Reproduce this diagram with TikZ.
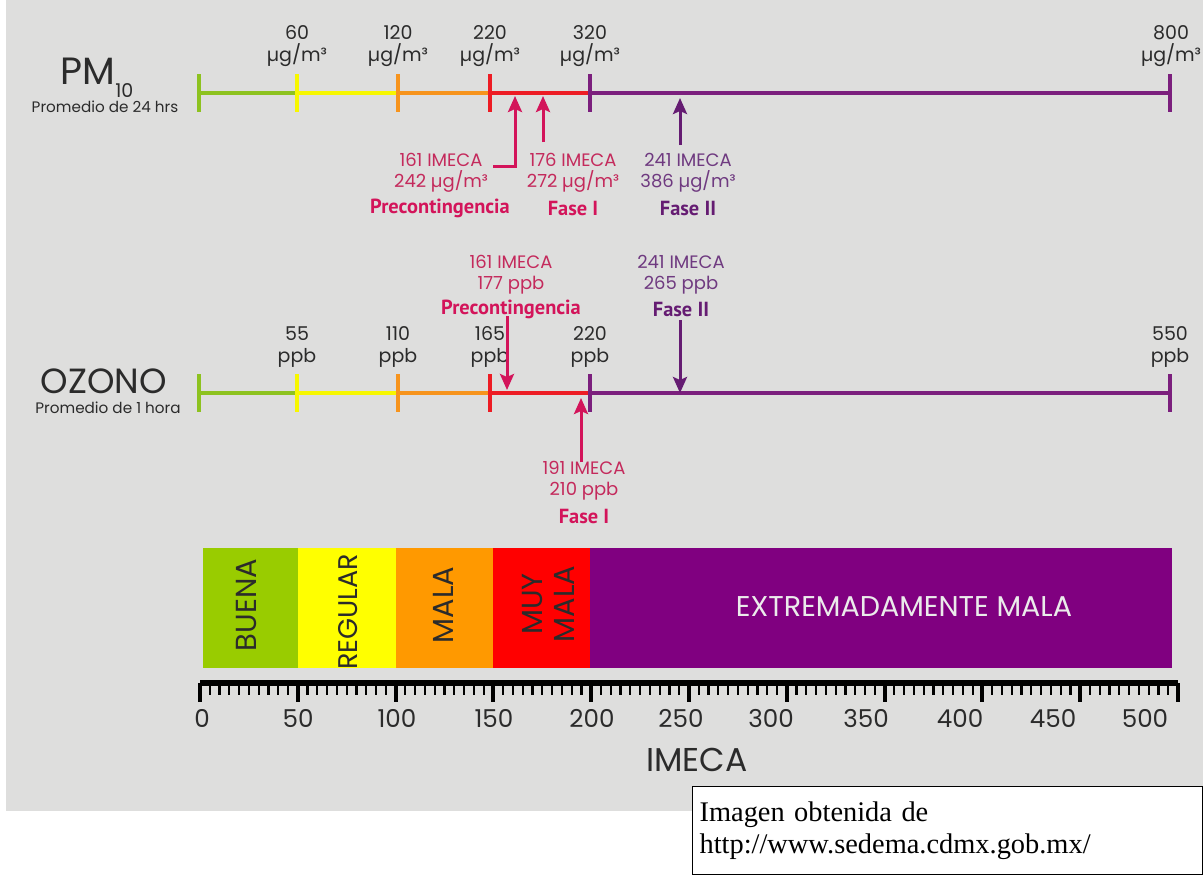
\documentclass[tikz,border=0pt]{standalone}
\usepackage{fontspec}
\setmainfont{Poppins}
\newfontfamily\negrita{PT Sans}
\newfontfamily\serifa{Liberation Serif}
\usepackage{tikz}
\usetikzlibrary{arrows.meta,positioning}

\definecolor{fondo}{HTML}{DEDEDD}
\definecolor{texto}{HTML}{2B2B2B}
\definecolor{verde}{HTML}{8DC21F}
\definecolor{amarillo}{HTML}{F7F700}
\definecolor{naranja}{HTML}{F7941D}
\definecolor{rojo}{HTML}{ED1C24}
\definecolor{morado}{HTML}{7B1F7D}
\definecolor{carmin}{HTML}{D3145A}
\definecolor{rosa}{HTML}{C42A5C}
\definecolor{lila}{HTML}{6F3A80}
\definecolor{uva}{HTML}{651C72}
\definecolor{bverde}{HTML}{99CC00}
\definecolor{bamarillo}{HTML}{FFFF00}
\definecolor{bnaranja}{HTML}{FF9900}
\definecolor{brojo}{HTML}{FF0000}
\definecolor{bmorado}{HTML}{800080}

\begin{document}
\begin{tikzpicture}[
    x=0.5pt, y=-0.5pt,
    seg/.style = {line width=2pt},
    escala/.style = {text=texto, font=\fontsize{9.5}{11}\selectfont, align=center, inner sep=0pt},
    dato/.style = {font=\fontsize{9}{10.5}\selectfont, align=center, inner sep=0pt},
    fase/.style = {font=\negrita\bfseries\fontsize{10.2}{11}\selectfont, inner sep=0pt},
    flecha/.style = {line width=1.5pt, -{Stealth[length=8pt,width=7pt,inset=1.5pt]}},
    barra/.style = {rotate=90, align=center, inner sep=0pt, text=texto, font=\fontsize{14.5}{15}\selectfont},
    >=stealth
  ]
  \useasboundingbox (0,0) rectangle (1203,874);
  \fill[fondo] (6,0) rectangle (1203,811);

  % PM10
  \node[inner sep=0pt, text=texto, font=\fontsize{19}{20}\selectfont] (pm) at (97,78)
    {PM\raisebox{-.35em}{\fontsize{9.5}{10}\selectfont 10}};
  \node[inner sep=0pt, text=texto, font=\fontsize{7.6}{9}\selectfont] (pmprom) at (105,107) {Promedio de 24 hrs};
  \foreach \a/\b/\c in {199/297/verde, 297/398/amarillo, 398/490/naranja, 490/590/rojo, 590/1170/morado} {
    \draw[seg,\c] (\a,93) -- (\b,93);
    \draw[seg,\c] (\a,74) -- (\a,112);
  }
  \draw[seg,morado] (1170,74) -- (1170,112);
  \foreach \x/\v in {297/60, 398/120, 490/220, 590/320, 1171/800}
    \node[escala] at (\x,46) {\v\\µg/m³};

  \node[dato, text=rosa] (pmpre) at (441,173) {161 IMECA\\242 µg/m³};
  \node[fase, text=carmin] (pmpreF) at (440,208) {Precontingencia};
  \node[dato, text=rosa] (pmf1) at (573,173) {176 IMECA\\272 µg/m³};
  \node[fase, text=carmin] (pmf1F) at (573,208) {Fase I};
  \node[dato, text=lila] (pmf2) at (688,173) {241 IMECA\\386 µg/m³};
  \node[fase, text=uva] (pmf2F) at (688,208) {Fase II};
  \coordinate (pmpreB) at (493,166);
  \coordinate (pmpreT) at (515,96);
  \coordinate (pmf1B) at (543,142);
  \coordinate (pmf1T) at (543,96);
  \coordinate (pmf2B) at (680,145);
  \coordinate (pmf2T) at (680,98);
  \draw[flecha, carmin] (pmpreB) -| (pmpreT);
  \draw[flecha, carmin] (pmf1B) -- (pmf1T);
  \draw[flecha, uva] (pmf2B) -- (pmf2T);

  % Ozono
  \node[inner sep=0pt, text=texto, font=\fontsize{17.5}{18}\selectfont] (oz) at (104,381) {OZONO};
  \node[inner sep=0pt, text=texto, font=\fontsize{7.6}{9}\selectfont] (ozprom) at (108,408) {Promedio de 1 hora};
  \foreach \a/\b/\c in {199/297/verde, 297/398/amarillo, 398/490/naranja, 490/590/rojo, 590/1170/morado} {
    \draw[seg,\c] (\a,393) -- (\b,393);
    \draw[seg,\c] (\a,374) -- (\a,412);
  }
  \draw[seg,morado] (1170,374) -- (1170,412);
  \foreach \x/\v in {297/55, 398/110, 490/165, 590/220, 1170/550}
    \node[escala] at (\x,347) {\v\\ppb};

  \node[dato, text=rosa] (ozpre) at (511,275) {161 IMECA\\177 ppb};
  \node[fase, text=carmin] (ozpreF) at (511,309) {Precontingencia};
  \node[dato, text=lila] (ozf2) at (681,275) {241 IMECA\\265 ppb};
  \node[fase, text=uva] (ozf2F) at (681,309) {Fase II};
  \node[dato, text=rosa] (ozf1) at (584,481) {191 IMECA\\210 ppb};
  \node[fase, text=carmin] (ozf1F) at (584,516) {Fase I};
  \coordinate (ozpreB) at (507,316);
  \coordinate (ozpreT) at (507,390);
  \coordinate (ozf2B) at (680,320);
  \coordinate (ozf2T) at (680,393);
  \coordinate (ozf1B) at (581,462);
  \coordinate (ozf1T) at (581,398);
  \draw[flecha, carmin] (ozpreB) -- (ozpreT);
  \draw[flecha, uva] (ozf2B) -- (ozf2T);
  \draw[flecha, carmin] (ozf1B) -- (ozf1T);

  % barra de calidad
  \foreach \a/\b/\c in {203/298/bverde, 298/396/bamarillo, 396/493/bnaranja, 493/590/brojo, 590/1172/bmorado}
    \fill[\c] (\a,548) rectangle (\b,668);
  \node[barra] (buena) at (246,605) {BUENA};
  \node[barra, font=\fontsize{13.5}{14}\selectfont] (regular) at (348,612) {REGULAR};
  \node[barra] (mala) at (443,605) {MALA};
  \node[barra, font=\fontsize{14.5}{16}\selectfont] (muymala) at (548,604) {MUY\\MALA};
  \node[inner sep=0pt, text=white!92!black, font=\fontsize{14.3}{15}\selectfont] (extrema) at (904,607) {EXTREMADAMENTE MALA};

  % regla IMECA
  \draw[line width=3pt] (200,683) -- (1178,683);
  \foreach \i in {0,...,100}
    \draw[line width=1.1pt] ({200+9.78*\i},683) -- ++(0,12);
  \foreach \i in {0,...,10}
    \draw[line width=2pt] ({200+97.8*\i},683) -- ++(0,19);
  \foreach \x/\v in {202/0, 298/50, 397/100, 494/150, 592/200, 681/250, 771/300, 866/350, 960/400, 1053/450, 1145/500}
    \node[inner sep=0pt, text=texto, font=\fontsize{12.3}{13}\selectfont] at (\x,718) {\v};
  \node[inner sep=0pt, text=texto, font=\fontsize{16.5}{17}\selectfont] (imeca) at (697,760) {IMECA};

  % fuente
  \node[draw, fill=white, line width=0.6pt, anchor=north west, minimum width=255pt, minimum height=44pt,
        text width=248pt, align=left, inner xsep=3.5pt, font=\serifa\fontsize{14.2}{16}\selectfont]
    (fuente) at (692,786) {Imagen obtenida de\\http://www.sedema.cdmx.gob.mx/};
\end{tikzpicture}
\end{document}
